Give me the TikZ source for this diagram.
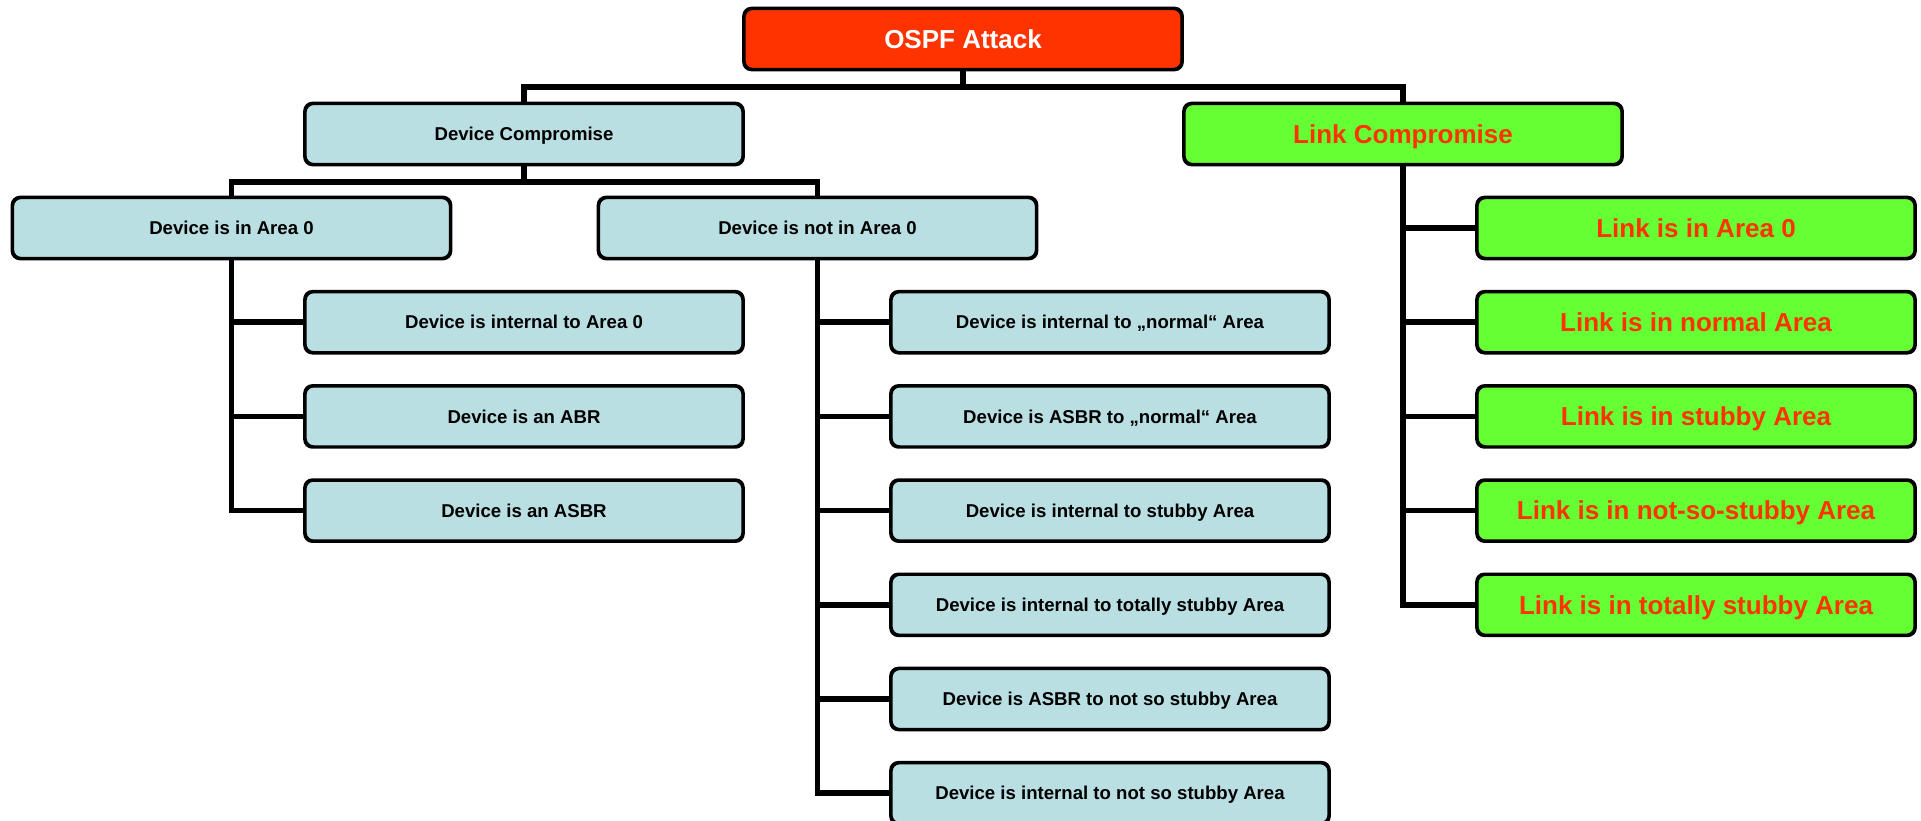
\documentclass[tikz,border=0pt]{standalone}
\usepackage{fontspec}
\setmainfont{Liberation Sans}
\begin{document}
\definecolor{rootred}{HTML}{FF3300}
\definecolor{devblue}{HTML}{B9DFE3}
\definecolor{linkgreen}{HTML}{66FF33}
\begin{tikzpicture}[x=1pt,y=-1pt,
  box/.style={draw=black, line width=2.3pt, rounded corners=8pt,
    minimum width=437pt, minimum height=60pt, inner sep=0pt, align=center,
    text depth=0pt},
  devbox/.style={box, fill=devblue, text height=13.3pt,
    font=\fontsize{18.6}{22}\selectfont\bfseries},
  linkbox/.style={box, fill=linkgreen, text=rootred, text height=18.6pt,
    font=\fontsize{26}{30}\selectfont\bfseries},
  rootbox/.style={box, fill=rootred, text=white, text height=18.6pt,
    font=\fontsize{26}{30}\selectfont\bfseries},
  conn/.style={draw=black, line width=5.5pt, line join=miter}]
\useasboundingbox (0,0) rectangle (1921,821);

% root and first level
\node[rootbox] (root) at (963,39) {OSPF Attack};
\node[devbox] (dc) at (524,134) {Device Compromise};
\node[linkbox] (lc) at (1403,134) {Link Compromise};

% second level of the device branch
\node[devbox] (d0) at (231.5,228) {Device is in Area 0};
\node[devbox] (dn) at (817.5,228) {Device is not in Area 0};

% devices in area 0
\node[devbox] (a1) at (524,322.2) {Device is internal to Area 0};
\node[devbox] (a2) at (524,416.4) {Device is an ABR};
\node[devbox] (a3) at (524,510.6) {Device is an ASBR};

% devices outside area 0
\node[devbox] (b1) at (1110,322.2) {Device is internal to „normal“ Area};
\node[devbox] (b2) at (1110,416.4) {Device is ASBR to „normal“ Area};
\node[devbox] (b3) at (1110,510.6) {Device is internal to stubby Area};
\node[devbox] (b4) at (1110,604.8) {Device is internal to totally stubby Area};
\node[devbox] (b5) at (1110,699.0) {Device is ASBR to not so stubby Area};
\node[devbox] (b6) at (1110,793.2) {Device is internal to not so stubby Area};

% link branch
\node[linkbox] (l1) at (1696,228) {Link is in Area 0};
\node[linkbox] (l2) at (1696,322.2) {Link is in normal Area};
\node[linkbox] (l3) at (1696,416.4) {Link is in stubby Area};
\node[linkbox] (l4) at (1696,510.6) {Link is in not-so-stubby Area};
\node[linkbox] (l5) at (1696,604.8) {Link is in totally stubby Area};

% junction points of the tree
\coordinate (j1) at (963,87);
\coordinate (j2) at (524,182);

% connectors: root to first level
\draw[conn] (root.south) -- (j1);
\draw[conn] (dc.north) |- (j1) -| (lc.north);

% connectors: device compromise to second level
\draw[conn] (dc.south) -- (j2);
\draw[conn] (d0.north) |- (j2) -| (dn.north);

% connectors: devices in area 0
\draw[conn] (d0.south) |- (a3.west);
\draw[conn] (d0.south |- a1.west) -- (a1.west);
\draw[conn] (d0.south |- a2.west) -- (a2.west);

% connectors: devices outside area 0
\draw[conn] (dn.south) |- (b6.west);
\foreach \n in {b1,b2,b3,b4,b5}
  \draw[conn] (dn.south |- \n.west) -- (\n.west);

% connectors: link compromise
\draw[conn] (lc.south) |- (l5.west);
\foreach \n in {l1,l2,l3,l4}
  \draw[conn] (lc.south |- \n.west) -- (\n.west);

% redraw box outlines over connector ends
\foreach \n in {dc,lc,d0,dn,a1,a2,a3,b1,b2,b3,b4,b5,b6,l1,l2,l3,l4,l5,root}
  \draw[black, line width=2.3pt, rounded corners=8pt]
    (\n.north west) rectangle (\n.south east);
\end{tikzpicture}
\end{document}
